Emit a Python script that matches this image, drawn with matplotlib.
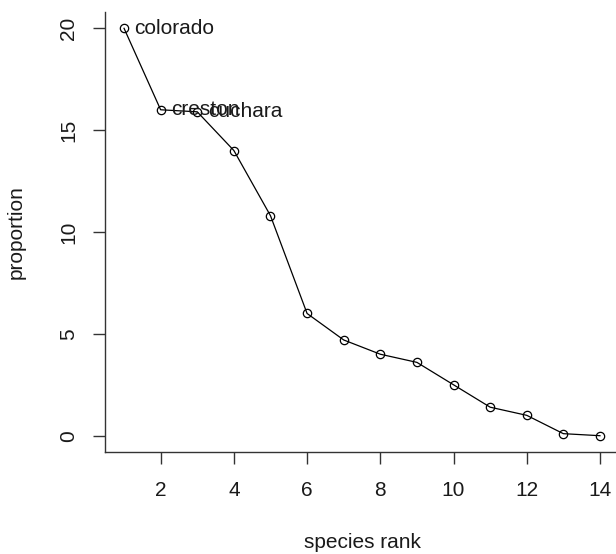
import matplotlib.pyplot as plt

plt.rcParams['font.family'] = ['Liberation Sans', 'DejaVu Sans']

rank = [1, 2, 3, 4, 5, 6, 7, 8, 9, 10, 11, 12, 13, 14]
proportion = [20.0, 16.0, 15.9, 14.0, 10.8, 6.0, 4.7, 4.0, 3.6, 2.5, 1.4, 1.0, 0.1, 0.0]
labels = ['colorado', 'creston', 'cuchara']

fs = 15

fig = plt.figure(figsize=(6.16, 5.54), dpi=100)
# left spine at x~105px, bottom spine at y~452px, right edge runs past the figure
ax = fig.add_axes([105 / 616, (554 - 452) / 554, (619 - 105) / 616, (452 - 12) / 554])

ax.plot(rank, proportion, color='black', lw=0.9, marker='o', markersize=6,
        markerfacecolor='none', markeredgewidth=0.9)

for i, name in enumerate(labels):
    ax.annotate(name, (rank[i], proportion[i]), xytext=(7.5, 0), textcoords='offset points',
                va='center', ha='left', fontsize=fs, color='#1a1a1a')

ax.set_xlim(0.48, 14.52)
ax.set_ylim(-0.8, 20.8)
ax.set_xticks([2, 4, 6, 8, 10, 12, 14])
ax.set_yticks([0, 5, 10, 15, 20])
ax.spines['top'].set_visible(False)
ax.spines['right'].set_visible(False)
for s in ('left', 'bottom'):
    ax.spines[s].set_color('#333333')
    ax.spines[s].set_linewidth(1.0)
ax.tick_params(direction='out', length=8.5, width=1.0, color='#333333', labelsize=fs,
               labelcolor='#1a1a1a')
ax.tick_params(axis='x', pad=12.5)
ax.tick_params(axis='y', pad=11, labelrotation=90)
for t in ax.get_yticklabels():
    t.set_va('center')

ax.set_xlabel('species rank', fontsize=fs, labelpad=24, color='#1a1a1a')
ax.set_ylabel('proportion', fontsize=fs, labelpad=24, color='#1a1a1a')

fig.savefig('out.png', dpi=100)
